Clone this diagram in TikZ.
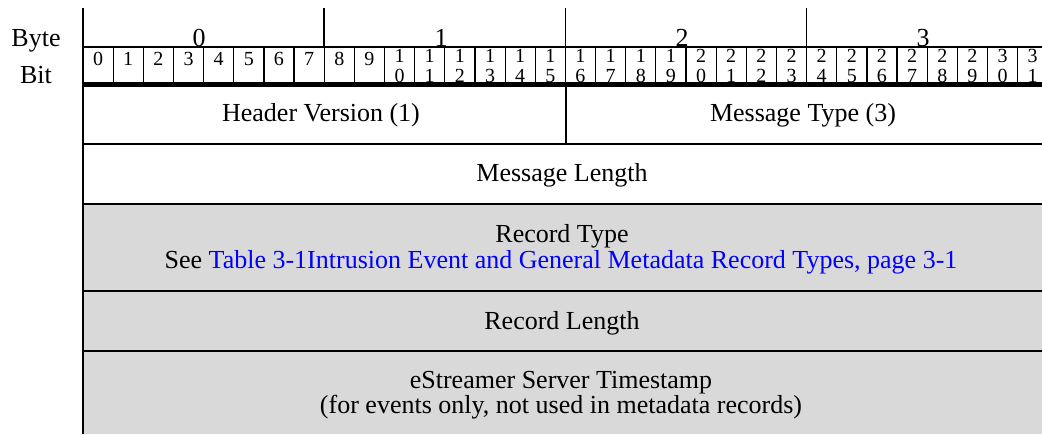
\documentclass[tikz,border=0pt]{standalone}
\usepackage{fontspec}
\setmainfont{Liberation Serif}
\definecolor{cellgray}{HTML}{D9D9D9}
\definecolor{linkblue}{RGB}{0,0,255}
\begin{document}
\begin{tikzpicture}[x=1pt,y=-1pt,
  txt/.style={inner sep=0pt, anchor=base, font=\fontsize{26}{30}\selectfont},
  bitnum/.style={inner sep=0pt, anchor=base, font=\fontsize{20}{22}\selectfont},
  rowrule/.style={line width=2pt},
  cellrule/.style={line width=1.2pt},
  byterule/.style={line width=1.6pt},
  thickrule/.style={line width=5pt}]
\useasboundingbox (0,0) rectangle (1042,434);
% gray rows
\fill[cellgray] (83,204) rectangle (1042,434);
% bit labels (drawn first so rules sit on top)
\foreach \i in {0,...,31}{
  \pgfmathsetmacro\cx{83+30.15*\i+15.075}
  \ifnum\i<10
    \node[bitnum] (bit\i) at (\cx,65) {\i};
  \else
    \pgfmathtruncatemacro\hi{\i/10}
    \pgfmathtruncatemacro\lo{mod(\i,10)}
    \node[bitnum] (bitT\i) at (\cx,62) {\hi};
    \node[bitnum] (bitB\i) at (\cx,82) {\lo};
  \fi
}
% bit cell dividers
\foreach \i in {1,...,31}{
  \draw[cellrule] ({83+30.15*\i},47) -- ({83+30.15*\i},84);
}
% byte separators
\foreach \i in {8,16,24}{
  \draw[byterule] ({83+30.15*\i},8) -- ({83+30.15*\i},47);
}
% horizontal rules
\draw[rowrule] (83,47) -- (1042,47);
\draw[thickrule] (83,84.5) -- (1042,84.5);
\draw[rowrule] (566,84) -- (566,144);
\draw[rowrule] (83,144) -- (1042,144);
\draw[rowrule] (83,204) -- (1042,204);
\draw[rowrule] (83,291) -- (1042,291);
\draw[rowrule] (83,351) -- (1042,351);
% left border
\draw[line width=2.2pt] (83,8) -- (83,434);
% labels
\node[txt] (bytelbl) at (36,46) {Byte};
\node[txt] (bitlbl) at (36,83) {Bit};
\node[txt] (byte0) at (199,46) {0};
\node[txt] (byte1) at (441,46) {1};
\node[txt] (byte2) at (682,46) {2};
\node[txt] (byte3) at (923,46) {3};
% field texts
\node[txt] (hdrver) at (321,121) {Header Version (1)};
\node[txt] (msgtype) at (803,121) {Message Type (3)};
\node[txt] (msglen) at (562,181) {Message Length};
\node[txt] (rectype) at (562,242) {Record Type};
\node[txt] (seeref) at (561,268) {See \textcolor{linkblue}{Table 3-1Intrusion Event and General Metadata Record Types, page 3-1}};
\node[txt] (reclen) at (562,329) {Record Length};
\node[txt] (ts1) at (561,388) {eStreamer Server Timestamp};
\node[txt] (ts2) at (561,413) {(for events only, not used in metadata records)};
\end{tikzpicture}
\end{document}
